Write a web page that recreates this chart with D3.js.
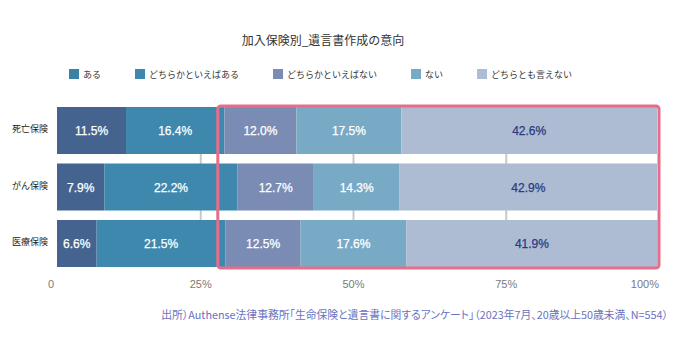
<!DOCTYPE html>
<html><head><meta charset="utf-8">
<script src="https://cdn.jsdelivr.net/npm/d3@7"></script>
<style>
html,body{margin:0;padding:0;background:#fff;}
svg{display:block;}
</style></head>
<body>
<svg id="chart" width="693" height="356"></svg>
<script>
// ---- data ----
const title = "加入保険別_遺言書作成の意向";
const categories = ["死亡保険", "がん保険", "医療保険"];
const seriesNames = ["ある", "どちらかといえばある", "どちらかといえばない", "ない", "どちらとも言えない"];
const aru          = [11.5, 7.9, 6.6];
const dochiraAru   = [16.4, 22.2, 21.5];
const dochiraNai   = [12.0, 12.7, 12.5];
const nai          = [17.5, 14.3, 17.6];
const dochiraTomo  = [42.6, 42.9, 41.9];
const tickValues = [0, 25, 50, 75, 100];
const tickLabels = ["0", "25%", "50%", "75%", "100%"];
const highlightFrom = 26.8; // highlighted range start (%)
const source = "出所）Authense法律事務所「生命保険と遺言書に関するアンケート」（2023年7月、20歳以上50歳未満、N=554）";

// ---- styles ----
const barColors = ["#44648f", "#3e88ae", "#7a8cb4", "#79aac5", "#adbcd3"];
const legendColors = ["#3c80a6", "#3e88ae", "#7a8cb4", "#79aac5", "#adbcd3"];
const labelColors = ["#ffffff", "#ffffff", "#ffffff", "#ffffff", "#2b3a80"];
const jp = "'Noto Sans CJK JP', 'Noto Sans', sans-serif";
const latin = "'Liberation Sans', Arial, sans-serif";

const seriesValues = [aru, dochiraAru, dochiraNai, nai, dochiraTomo];
const rows = categories.map((c, i) => {
  const o = {cat: c};
  seriesNames.forEach((s, k) => o[s] = seriesValues[k][i]);
  return o;
});
const stacked = d3.stack().keys(seriesNames)(rows);

const svg = d3.select("#chart");

// scales
const x = d3.scaleLinear().domain([0, 100]).range([57, 657]);
const xAxisScale = d3.scaleLinear().domain([0, 100]).range([48, 659]);
const y = d3.scaleBand().domain(categories).range([107, 267]).paddingInner(0.168).paddingOuter(0);

// title
svg.append("text").attr("x", 323).attr("y", 45).attr("text-anchor", "middle")
  .style("font-family", jp).style("font-size", "12px").attr("fill", "#333")
  .text(title);

// legend
const legend = svg.append("g");
let lx = 69;
seriesNames.forEach((s, k) => {
  const g = legend.append("g").attr("transform", `translate(${lx},69)`);
  g.append("rect").attr("width", 10).attr("height", 10).attr("fill", legendColors[k]);
  const t = g.append("text").attr("x", 14).attr("y", 8.5)
    .style("font-family", jp).style("font-size", "9px").attr("fill", "#333").text(s);
  lx += 14 + t.node().getComputedTextLength() + 34;
});

// gridlines (only inner ticks)
svg.append("g").selectAll("line").data(tickValues.filter(v => v > 0 && v < 100)).join("line")
  .attr("x1", d => xAxisScale(d)).attr("x2", d => xAxisScale(d))
  .attr("y1", y.range()[0]).attr("y2", y.range()[1])
  .attr("stroke", "#c8c8c8").attr("stroke-width", 2);

// bars
const layers = svg.append("g").selectAll("g").data(stacked).join("g")
  .attr("fill", (d, k) => barColors[k]);
layers.selectAll("rect").data(d => d.map(p => ({p, cat: p.data.cat}))).join("rect")
  .attr("x", d => x(d.p[0])).attr("width", d => x(d.p[1]) - x(d.p[0]))
  .attr("y", d => y(d.cat)).attr("height", y.bandwidth());

// value labels
stacked.forEach((layer, k) => {
  svg.append("g").selectAll("text").data(layer).join("text")
    .attr("x", d => (x(d[0]) + x(d[1])) / 2)
    .attr("y", d => y(d.data.cat) + y.bandwidth() / 2 + 4.5)
    .attr("text-anchor", "middle")
    .style("font-family", latin).style("font-size", "12px")
    .attr("fill", labelColors[k])
    .attr("stroke", labelColors[k]).attr("stroke-width", 0.25)
    .text(d => (d[1] - d[0]).toFixed(1) + "%");
});

// category labels
svg.append("g").selectAll("text").data(categories).join("text")
  .attr("x", 12).attr("y", d => y(d) + y.bandwidth() / 2 + 1.5)
  .style("font-family", jp).style("font-size", "9px").attr("fill", "#222")
  .text(d => d);

// axis labels
svg.append("g").selectAll("text").data(tickValues).join("text")
  .attr("x", d => xAxisScale(d)).attr("y", 288)
  .attr("text-anchor", (d, i) => i === 0 ? "start" : (i === tickValues.length - 1 ? "end" : "middle"))
  .style("font-family", latin).style("font-size", "11px").attr("fill", "#7a7a7a")
  .text((d, i) => tickLabels[i]);

// highlight box
const [y0, y1] = y.range();
svg.append("rect")
  .attr("x", x(highlightFrom)).attr("y", y0 - 1)
  .attr("width", x(100) + 2 - x(highlightFrom)).attr("height", y1 - y0 + 2)
  .attr("rx", 3).attr("fill", "none").attr("stroke", "#e56f8a").attr("stroke-width", 3);

// source
svg.append("text").attr("x", 668).attr("y", 319).attr("text-anchor", "end")
  .style("font-family", jp).style("font-size", "10.8px")
  .style("font-feature-settings", "'palt'")
  .attr("fill", "#6a72c0")
  .text(source);
</script>
</body></html>
